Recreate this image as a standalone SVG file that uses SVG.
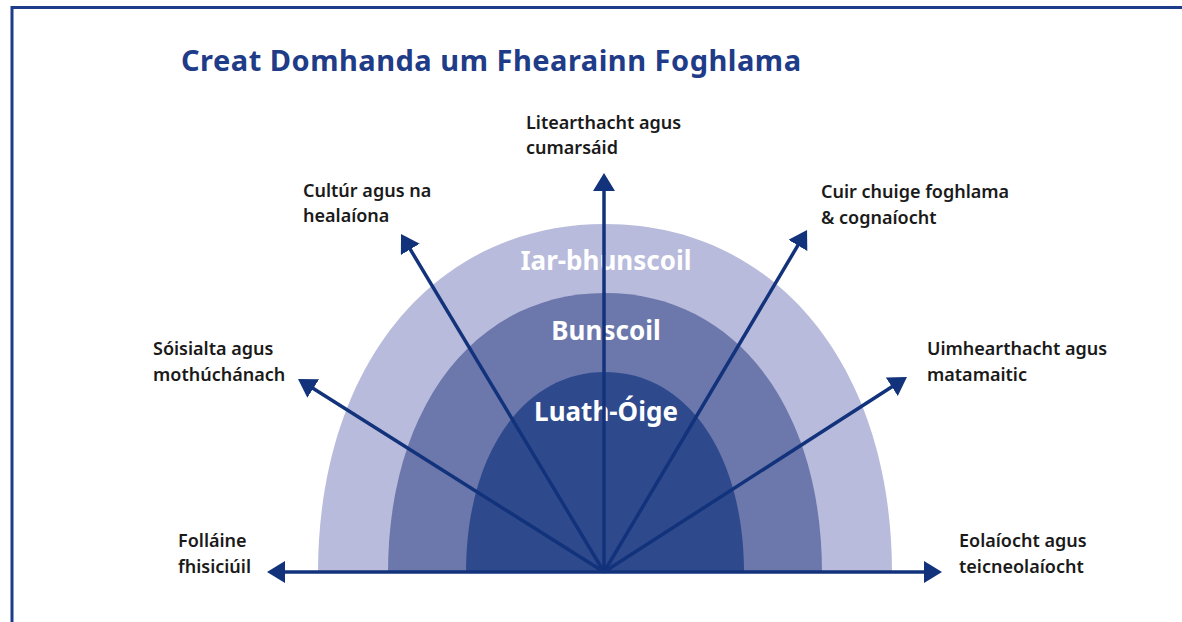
<svg xmlns="http://www.w3.org/2000/svg" width="1182" height="622" viewBox="0 0 1182 622">
<style>
.lbl{font-family:"Noto Sans","Open Sans","DejaVu Sans",sans-serif;font-size:18px;font-weight:600;fill:#1a1a1a}
.lvl{font-family:"Noto Sans","Open Sans","DejaVu Sans",sans-serif;font-size:26px;font-weight:bold;fill:#ffffff;text-anchor:middle}
.arr{stroke:#12337c;stroke-width:3.5;fill:none;marker-end:url(#ah)}
</style>
<defs>
<marker id="ah" markerUnits="userSpaceOnUse" markerWidth="20" markerHeight="24" refX="14" refY="11" orient="auto">
<path d="M0,0 L18,11 L0,22 Z" fill="#12337c"/>
</marker>
</defs>
<rect width="1182" height="622" fill="#ffffff"/>
<g id="frame" fill="none" stroke="#1d3c8c" stroke-width="3">
<line x1="12" y1="7.5" x2="1182" y2="7.5"/>
<line x1="12" y1="6" x2="12" y2="622"/>
</g>
<g id="title">
<text x="181" y="71" textLength="620" lengthAdjust="spacing" font-family="'Noto Sans','Open Sans',sans-serif" font-size="29" font-weight="bold" fill="#1f3c88">Creat Domhanda um Fhearainn Foghlama</text>
</g>
<g id="ring-outer">
<path d="M318,573 C318,366 434,224 605,224 C776,224 892,366 892,573 Z" fill="#b8bbdb"/>
<text class="lvl" x="606" y="270">Iar-bhunscoil</text>
</g>
<g id="ring-middle">
<path d="M388,573 C388,407 475,293 605,293 C735,293 822,407 822,573 Z" fill="#6c78ac"/>
<text class="lvl" x="606" y="340">Bunscoil</text>
</g>
<g id="ring-inner">
<path d="M466,573 C466,454 523,372 605,372 C687,372 744,454 744,573 Z" fill="#2e4a8d"/>
<text class="lvl" x="606" y="421">Luath-Óige</text>
</g>
<g id="connectors">
<line class="arr" x1="604" y1="572" x2="604" y2="177"/>
<line class="arr" x1="604" y1="572" x2="403.1" y2="237.4"/>
<line class="arr" x1="604" y1="572" x2="805" y2="233.4"/>
<line class="arr" x1="604" y1="572" x2="301.4" y2="381.1"/>
<line class="arr" x1="604" y1="572" x2="903.6" y2="379.2"/>
<line class="arr" x1="604" y1="572" x2="271" y2="572"/>
<line class="arr" x1="604" y1="572" x2="938" y2="572"/>
</g>
<g id="label-litearthacht">
<text class="lbl" x="526" y="129">Litearthacht agus</text>
<text class="lbl" x="526" y="154">cumarsáid</text>
</g>
<g id="label-cultur">
<text class="lbl" x="303" y="197">Cultúr agus na</text>
<text class="lbl" x="303" y="222">healaíona</text>
</g>
<g id="label-cuir">
<text class="lbl" x="821" y="198">Cuir chuige foghlama</text>
<text class="lbl" x="821" y="224">&amp; cognaíocht</text>
</g>
<g id="label-soisialta">
<text class="lbl" x="153" y="355">Sóisialta agus</text>
<text class="lbl" x="153" y="381">mothúchánach</text>
</g>
<g id="label-uimhearthacht">
<text class="lbl" x="927" y="355">Uimhearthacht agus</text>
<text class="lbl" x="927" y="381">matamaitic</text>
</g>
<g id="label-follaine">
<text class="lbl" x="178" y="547">Folláine</text>
<text class="lbl" x="178" y="573">fhisiciúil</text>
</g>
<g id="label-eolaiocht">
<text class="lbl" x="959" y="547">Eolaíocht agus</text>
<text class="lbl" x="959" y="573">teicneolaíocht</text>
</g>
</svg>
